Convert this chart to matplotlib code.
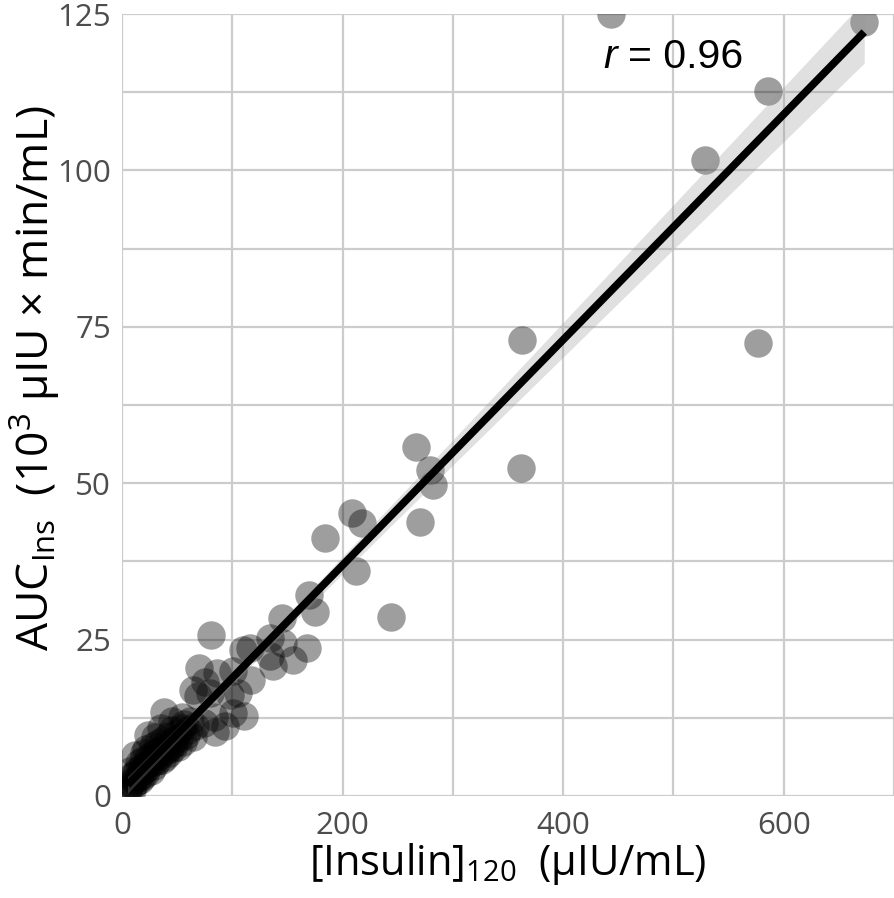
import numpy as np
import matplotlib
matplotlib.use("Agg")
import matplotlib.pyplot as plt

# ---- data ----
insulin_120 = [
    443, 673, 586, 529, 363, 577, 267, 279, 282, 362, 270, 209, 218, 184, 212,
    244, 170, 175, 145, 134, 146, 168, 81, 110, 116, 134, 155, 137, 70, 86,
    101, 117, 64, 75, 80, 98, 105, 101, 111, 83, 74, 38, 54, 84, 93, 69,
    6, 8, 9, 10, 11, 12, 12, 13, 14, 15, 15, 16, 17, 18, 18, 19, 20, 21, 22,
    22, 23, 24, 24, 25, 26, 27, 28, 28, 29, 30, 31, 32, 33, 34, 35, 36, 37,
    38, 39, 40, 41, 42, 43, 44, 45, 46, 47, 48, 50, 51, 52, 54, 55, 56, 58,
    60, 62, 64, 66, 30, 20, 35, 45, 9, 7, 5,
]
auc_ins = [
    125.0, 123.7, 112.7, 101.7, 72.9, 72.4, 55.8, 52.1, 49.7, 52.4, 43.8, 45.2,
    43.6, 41.2, 35.9, 28.6, 32.1, 29.4, 28.5, 25.2, 24.5, 23.7, 25.8, 23.3,
    23.6, 22.3, 21.7, 20.7, 20.4, 19.6, 19.9, 18.5, 16.9, 18.3, 16.4, 16.1,
    16.4, 13.2, 12.8, 12.7, 11.6, 13.4, 12.7, 10.2, 11.2, 16.0,
    1.5, 2.0, 3.2, 1.8, 2.6, 6.5, 3.5, 2.2, 4.0, 3.0, 5.2, 2.5, 3.8, 4.6, 3.0,
    5.8, 4.2, 3.5, 5.0, 7.5, 4.4, 9.8, 6.0, 5.2, 4.0, 6.6, 5.5, 8.0, 4.8, 6.2,
    7.0, 5.6, 8.5, 6.4, 7.4, 5.8, 9.0, 7.0, 6.2, 8.2, 7.4, 9.6, 6.8, 8.0, 10.5,
    7.6, 9.0, 8.4, 10.0, 7.8, 9.2, 10.8, 8.6, 11.5, 9.8, 10.6, 12.0, 9.4, 11.2,
    9.5, 6.8, 10.8, 12.0, 1.0, 4.0, 1.0,
]
x_ticks = [0, 200, 400, 600]
y_ticks = [0, 25, 50, 75, 100, 125]
r_label = "0.96"

# ---- fonts ----
plt.rcParams['font.family'] = ['Open Sans', 'DejaVu Sans']
plt.rcParams['mathtext.fontset'] = 'custom'
plt.rcParams['mathtext.rm'] = 'Open Sans'
plt.rcParams['mathtext.it'] = 'Open Sans:italic'
plt.rcParams['mathtext.bf'] = 'Open Sans:bold'

x = np.array(insulin_120, dtype=float)
y = np.array(auc_ins, dtype=float)

# linear fit and confidence band
slope, intercept = np.polyfit(x, y, 1)
n = len(x)
resid = y - (slope * x + intercept)
s = np.sqrt(np.sum(resid ** 2) / (n - 2))
xbar = x.mean()
sxx = np.sum((x - xbar) ** 2)
xf = np.linspace(x.min(), x.max(), 200)
yf = slope * xf + intercept
se = s * np.sqrt(1.0 / n + (xf - xbar) ** 2 / sxx)
tval = 1.75
lo, hi = yf - tval * se, yf + tval * se

fig = plt.figure(figsize=(8.95, 8.98), dpi=100)
ax = fig.add_axes([0.1363, 0.1136, 0.8626, 0.8708])

ax.scatter(x, y, s=420, color='black', alpha=0.38, linewidths=0, zorder=2)
ax.fill_between(xf, lo, hi, color='#999999', alpha=0.3, linewidth=0, zorder=3)
ax.plot(xf, yf, color='black', linewidth=5.5, zorder=4, solid_capstyle='butt')

ax.set_xlim(0, 700)
ax.set_ylim(0, 125)
ax.set_xticks(x_ticks)
ax.set_yticks(y_ticks)
ax.set_xticks([100, 300, 500, 700], minor=True)
ax.set_yticks([12.5, 37.5, 62.5, 87.5, 112.5], minor=True)
ax.grid(True, which='both', color='#cccccc', linewidth=1.6, zorder=0)
ax.set_axisbelow(True)
for sp in ax.spines.values():
    sp.set_visible(False)
ax.tick_params(which='both', length=0)
ax.tick_params(axis='x', pad=10.5, labelsize=22.5, labelcolor='#4d4d4d')
ax.tick_params(axis='y', pad=8, labelsize=22.5, labelcolor='#4d4d4d')

ax.set_xlabel(r'[Insulin]$_{120}$  (µIU/mL)', fontsize=30, labelpad=0)
ax.set_ylabel(r'AUC$_{\mathrm{Ins}}$  (10$^{3}$ µIU × min/mL)', fontsize=32)
ax.yaxis.set_label_coords(-0.078, 0.535)

ax.text(436, 116.4, 'r', fontsize=29.5, ha='left', va='baseline',
        family=['Liberation Sans', 'DejaVu Sans'], style='italic', zorder=5)
ax.text(459, 116.4, '= ' + r_label, fontsize=29.5, ha='left', va='baseline',
        family=['Liberation Sans', 'DejaVu Sans'], zorder=5)

fig.savefig('out.png', dpi=100)
